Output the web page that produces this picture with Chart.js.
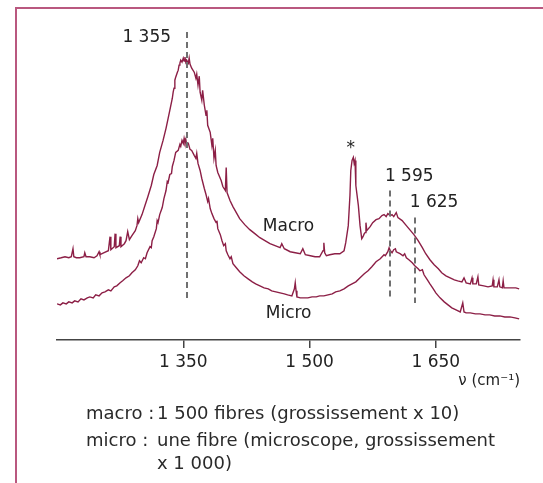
<!DOCTYPE html>
<html lang="fr">
<head>
<meta charset="utf-8">
<title>Spectres Raman macro / micro</title>
<script src="https://cdn.jsdelivr.net/npm/chart.js@4.4.1/dist/chart.umd.min.js"></script>
<style>
    body { margin: 0; background: #fff; font-family: "DejaVu Sans", Verdana, sans-serif; }
    #wrap { position: relative; width: 543px; height: 483px; overflow: hidden; }
    #spectra { position: absolute; left: 0; top: 0; }
    #frame {
        position: absolute; left: 15px; top: 7px; right: 0; bottom: 0;
        border-left: 2px solid #b9587f; border-top: 2px solid #b9587f;
        pointer-events: none;
    }
    .note { position: absolute; font-size: 18px; color: #2a2a2a; white-space: nowrap; line-height: 20px; }
</style>
</head>
<body>
<div id="wrap">
    <canvas id="spectra" width="543" height="483"></canvas>
    <div id="frame"></div>
    <span class="note" style="left:86px; top:403px;">macro :</span>
    <span class="note" style="left:157px; top:403px;">1 500 fibres (grossissement x 10)</span>
    <span class="note" style="left:86px; top:430px;">micro :</span>
    <span class="note" style="left:157px; top:430px;">une fibre (microscope, grossissement</span>
    <span class="note" style="left:157px; top:453px;">x 1 000)</span>
</div>
<script>
// wavenumber (cm-1) and intensity (arbitrary units)
const macroNu = [1200, 1205, 1209.5, 1214, 1217, 1219, 1220, 1223, 1227, 1232, 1233, 1234.5, 1239, 1244, 1247.5, 1250,
    1251, 1256, 1261, 1263, 1264, 1268, 1269, 1270, 1274, 1275, 1276, 1280, 1282, 1284, 1286, 1289, 1293, 1295, 1296,
    1297, 1301, 1304.5, 1308, 1312, 1315, 1319, 1322, 1326, 1329.5, 1332, 1334, 1337, 1338, 1339, 1340, 1341, 1343,
    1344, 1345, 1346, 1347, 1348.5, 1350, 1351, 1352, 1353, 1354, 1356, 1357, 1358, 1360, 1363, 1365, 1366, 1367.5,
    1369, 1370, 1372, 1373, 1375, 1377, 1378, 1379, 1382, 1384, 1385, 1386.5, 1388, 1389, 1391, 1392.5, 1395, 1397,
    1400, 1401, 1402, 1405.5, 1409, 1413, 1417, 1423, 1429, 1435, 1441, 1447, 1453, 1459, 1465, 1467, 1470, 1477,
    1483, 1489, 1492, 1495, 1501, 1506.5, 1512, 1516, 1517, 1518, 1520, 1524, 1530, 1536, 1541, 1543, 1546, 1548,
    1549, 1550.5, 1552, 1553, 1554, 1555, 1558, 1560, 1562, 1563.5, 1565, 1566, 1567, 1568, 1572, 1575, 1579, 1582.5,
    1586, 1588.5, 1591, 1593, 1596, 1598, 1600, 1603, 1605, 1610, 1615, 1619, 1624, 1629, 1634, 1638, 1643, 1648,
    1653, 1657, 1662, 1667, 1672, 1676, 1681, 1683.5, 1686, 1691, 1693, 1694, 1698, 1700, 1701, 1707, 1712, 1717,
    1718, 1719, 1723, 1725, 1726, 1729, 1730, 1731, 1736, 1740.5, 1745, 1749];
const macroI = [81, 82, 83, 82, 83, 91, 83, 82, 82, 83, 87, 83, 83, 82, 84, 88,
    85, 87, 89, 103, 90, 93, 106, 92, 94, 103, 93, 96, 99, 108, 100, 104, 109, 114, 121,
    117, 125, 134, 143, 154, 165, 174, 187, 199, 211, 221, 229, 241, 247, 251, 259, 262, 267,
    269, 274, 276, 279, 277, 281, 278, 282, 277, 279, 276, 281, 275, 271, 267, 261, 265, 254,
    263, 247, 239, 249, 234, 224, 229, 214, 207, 194, 201, 181, 189, 174, 167, 164, 159, 153,
    149, 172, 147, 139, 133, 127, 121, 115, 110, 106, 102, 99, 96, 94, 92, 96, 91, 88,
    87, 86, 91, 85, 84, 83, 83, 89, 97, 87, 84, 85, 86, 86, 89, 97, 114, 144,
    169, 179, 182, 176, 179, 154, 134, 114, 101, 103, 106, 107, 117, 109, 113, 117, 120, 121,
    124, 125, 123, 126, 124, 125, 123, 127, 122, 119, 114, 110, 105, 99, 92, 86, 80, 75,
    71, 67, 64, 62, 60, 59, 58, 62, 57, 56, 62, 56, 56, 63, 55, 54, 53, 54,
    60, 53, 53, 60, 53, 52, 59, 52, 52, 52, 52, 51];

const microNu = [1200, 1204, 1207, 1211, 1214, 1218, 1221, 1225, 1228.5, 1232, 1236, 1239, 1243, 1246, 1250, 1253.5,
    1257, 1261, 1264, 1268, 1271, 1275, 1278, 1282, 1286, 1289, 1293, 1296, 1298, 1300, 1303, 1305, 1307, 1310.5, 1312,
    1313, 1315, 1318, 1319, 1320, 1322, 1325, 1327, 1329.5, 1331, 1332, 1334, 1336, 1337, 1339, 1341, 1344, 1346, 1347,
    1348.5, 1350, 1351, 1352, 1353, 1354, 1356, 1358, 1360, 1363, 1365, 1366, 1367.5, 1370, 1372, 1375, 1377, 1379,
    1380, 1382, 1384, 1386.5, 1389, 1390, 1391, 1394, 1396, 1398, 1400, 1401, 1403, 1405.5, 1407, 1409, 1413, 1417,
    1422, 1427, 1432, 1436, 1441, 1446, 1451, 1455, 1460, 1465, 1470, 1474, 1479, 1482, 1483, 1484, 1485, 1489, 1493,
    1498, 1503, 1508, 1512, 1517, 1522, 1527, 1531, 1536, 1541, 1546, 1550.5, 1555, 1560, 1565, 1569.5, 1574, 1579,
    1584, 1588.5, 1590, 1593, 1594.5, 1596, 1598, 1600, 1602, 1603, 1605, 1607.5, 1611, 1613, 1615, 1618, 1622, 1625,
    1629, 1631, 1634, 1636, 1640, 1643, 1647, 1650, 1655, 1660, 1664.5, 1669, 1674, 1679, 1682, 1683.5, 1686, 1691,
    1697, 1702.5, 1708.5, 1714, 1720, 1726, 1732, 1738, 1744, 1749];
const microI = [36, 35, 37, 36, 38, 37, 39, 38, 41, 40, 42, 43, 42, 45, 44, 47,
    48, 50, 49, 53, 54, 57, 59, 62, 64, 67, 70, 74, 79, 77, 82, 81, 87, 93, 92,
    99, 103, 111, 119, 117, 125, 132, 141, 149, 158, 157, 165, 166, 173, 179, 187, 189, 195, 193,
    199, 196, 201, 197, 200, 195, 196, 190, 189, 184, 181, 186, 176, 169, 161, 151, 145, 138,
    141, 131, 126, 121, 117, 119, 111, 105, 99, 94, 96, 89, 85, 81, 83, 76, 72, 68,
    64, 61, 58, 56, 54, 52, 51, 49, 48, 47, 46, 45, 44, 51, 57, 49, 43, 42, 42,
    42, 43, 43, 44, 44, 45, 46, 48, 49, 51, 54, 56, 58, 62, 66, 69, 73, 78,
    81, 85, 84, 88, 92, 89, 87, 90, 91, 88, 87, 86, 84, 86, 82, 80, 77, 74,
    71, 69, 70, 65, 60, 56, 51, 47, 42, 38, 35, 32, 30, 28, 37, 28, 27, 27,
    26, 26, 25, 25, 24, 24, 23, 23, 22, 21];

const xTicks = [1350, 1500, 1650];

// dashed peak markers: position and vertical extent (same units as the data)
const peakNu = [1355, 1595, 1625];
const peakTop = [307, 149, 122];
const peakBottom = [39, 40, 37];

const notes = [
    { text: '1 355', x: 1335.5, y: 301, align: 'right' },
    { text: '1 595', x: 1589.5, y: 163, align: 'left' },
    { text: '1 625', x: 1619, y: 137, align: 'left' },
    { text: '*', x: 1549, y: 191, align: 'center' },
    { text: 'Macro', x: 1444.5, y: 113, align: 'left' },
    { text: 'Micro', x: 1448, y: 26, align: 'left' }
];

const LINE = '#8c1f46';
const FONT = '"DejaVu Sans", Verdana, sans-serif';

function pairs(xs, ys) {
    return xs.map((x, i) => ({ x: x, y: ys[i] }));
}

const markers = {
    id: 'markers',
    afterDatasetsDraw(chart) {
        const ctx = chart.ctx;
        const xs = chart.scales.x, ys = chart.scales.y;
        ctx.save();
        ctx.strokeStyle = '#707070';
        ctx.lineWidth = 2;
        ctx.setLineDash([6, 4]);
        peakNu.forEach((nu, i) => {
            const px = Math.round(xs.getPixelForValue(nu));
            ctx.beginPath();
            ctx.moveTo(px, ys.getPixelForValue(peakTop[i]));
            ctx.lineTo(px, ys.getPixelForValue(peakBottom[i]));
            ctx.stroke();
        });
        ctx.setLineDash([]);
        ctx.fillStyle = '#222';
        ctx.font = '17px ' + FONT;
        ctx.textBaseline = 'middle';
        notes.forEach(n => {
            ctx.textAlign = n.align;
            ctx.fillText(n.text, xs.getPixelForValue(n.x), ys.getPixelForValue(n.y));
        });
        ctx.restore();
    }
};

new Chart(document.getElementById('spectra'), {
    type: 'line',
    data: {
        datasets: [
            { label: 'Macro', data: pairs(macroNu, macroI), borderColor: LINE, borderWidth: 1.4, pointRadius: 0, tension: 0 },
            { label: 'Micro', data: pairs(microNu, microI), borderColor: LINE, borderWidth: 1.4, pointRadius: 0, tension: 0 }
        ]
    },
    options: {
        responsive: false,
        animation: false,
        events: [],
        layout: { padding: { left: 57, right: 23, top: 19, bottom: 93 } },
        plugins: { legend: { display: false }, tooltip: { enabled: false } },
        scales: {
            x: {
                type: 'linear',
                min: 1200,
                max: 1750,
                afterBuildTicks: scale => { scale.ticks = xTicks.map(v => ({ value: v })); },
                ticks: {
                    color: '#222',
                    padding: 4,
                    maxRotation: 0,
                    font: { family: FONT, size: 17 },
                    callback: v => String(v).replace(/\B(?=(\d{3})+(?!\d))/g, ' ')
                },
                grid: { drawOnChartArea: false, tickLength: 8, color: '#444', lineWidth: 1.5 },
                border: { color: '#444', width: 1.5 },
                title: {
                    display: true,
                    text: 'ν (cm⁻¹)',
                    align: 'end',
                    color: '#222',
                    padding: { top: -4.4, bottom: 0 },
                    font: { family: FONT, size: 15 }
                }
            },
            y: { display: false, min: 0, max: 320 }
        }
    },
    plugins: [markers]
});
</script>
</body>
</html>
